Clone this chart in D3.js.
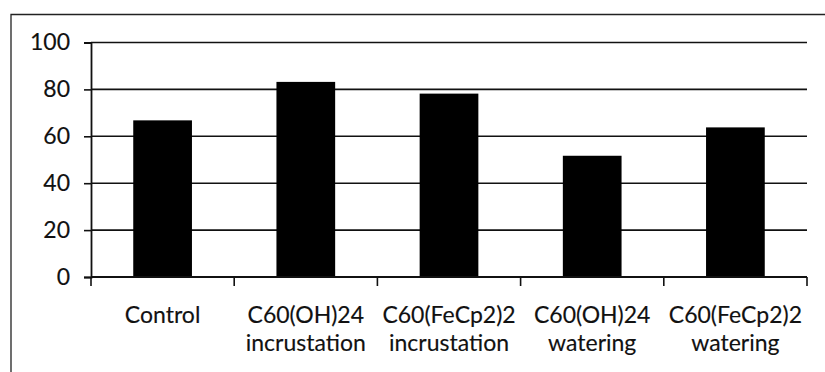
<!DOCTYPE html>
<html>
<head>
<meta charset="utf-8">
<script src="https://cdn.jsdelivr.net/npm/d3@7"></script>
<style>
  html, body { margin: 0; padding: 0; background: #fff; }
  svg { display: block; }
  text { font-family: Lato, "Open Sans", sans-serif; fill: #111; }
</style>
</head>
<body>
<svg id="chart" width="825" height="372"></svg>
<script>
// Category labels (two lines each) and bar values
const categories = ["Control", "C60(OH)24 incrustation", "C60(FeCp2)2 incrustation", "C60(OH)24 watering", "C60(FeCp2)2 watering"];
const labelLines = [["Control"], ["C60(OH)24", "incrustation"], ["C60(FeCp2)2", "incrustation"], ["C60(OH)24", "watering"], ["C60(FeCp2)2", "watering"]];
const values = [66.8, 83.2, 78.2, 51.7, 63.8];
const yTicks = [0, 20, 40, 60, 80, 100];

const svg = d3.select("#chart");
const plot = { left: 91, right: 807, top: 42.5, bottom: 277 };
const fontSize = "23px";

const x = d3.scaleBand()
  .domain(categories)
  .range([plot.left, plot.right])
  .paddingInner(0.59)
  .paddingOuter(0.295);
const y = d3.scaleLinear().domain([0, 100]).range([plot.bottom, plot.top]);
const step = x.step();

// outer frame (top and left edges)
svg.append("path")
  .attr("d", "M11,380 L11,14.5 L825,14.5")
  .attr("fill", "none")
  .attr("stroke", "#222")
  .attr("stroke-width", 1.3);

// horizontal gridlines
svg.append("g").selectAll("line")
  .data(yTicks)
  .join("line")
  .attr("x1", plot.left).attr("x2", plot.right)
  .attr("y1", d => y(d)).attr("y2", d => y(d))
  .attr("stroke", "#111")
  .attr("stroke-width", 1.6);

// bars
svg.append("g").selectAll("rect")
  .data(values)
  .join("rect")
  .attr("x", (d, i) => x(categories[i]))
  .attr("width", x.bandwidth())
  .attr("y", d => y(d))
  .attr("height", d => y(0) - y(d))
  .attr("fill", "#000");

// y axis
const yAxis = d3.axisLeft(y).tickValues(yTicks).tickSize(7).tickPadding(14).tickFormat(d3.format("d"));
const gy = svg.append("g").attr("transform", `translate(${plot.left},0)`).call(yAxis);
gy.select(".domain").attr("stroke", "#111").attr("stroke-width", 1.8);
gy.selectAll(".tick line").attr("stroke", "#111").attr("stroke-width", 1.6);
gy.selectAll(".tick text")
  .attr("font-size", fontSize)
  .attr("font-family", "Lato, 'Open Sans', sans-serif")
  .attr("fill", "#111")
  .attr("stroke", "#111")
  .attr("stroke-width", 0.15);

// x axis baseline with category boundary ticks
svg.append("line")
  .attr("x1", plot.left).attr("x2", plot.right)
  .attr("y1", y(0)).attr("y2", y(0))
  .attr("stroke", "#111").attr("stroke-width", 1.8);
svg.append("g").selectAll("line")
  .data(d3.range(categories.length + 1))
  .join("line")
  .attr("x1", i => plot.left + i * step).attr("x2", i => plot.left + i * step)
  .attr("y1", y(0)).attr("y2", y(0) + 9)
  .attr("stroke", "#111").attr("stroke-width", 1.6);

// category labels
const labels = svg.append("g").selectAll("text")
  .data(labelLines)
  .join("text")
  .attr("text-anchor", "middle")
  .attr("font-size", fontSize)
  .attr("stroke", "#111")
  .attr("stroke-width", 0.15)
  .attr("transform", (d, i) => `translate(${x(categories[i]) + x.bandwidth() / 2},323)`);
labels.selectAll("tspan")
  .data(d => d)
  .join("tspan")
  .attr("x", 0)
  .attr("y", (d, j) => j * 28)
  .text(d => d);
</script>
</body>
</html>
